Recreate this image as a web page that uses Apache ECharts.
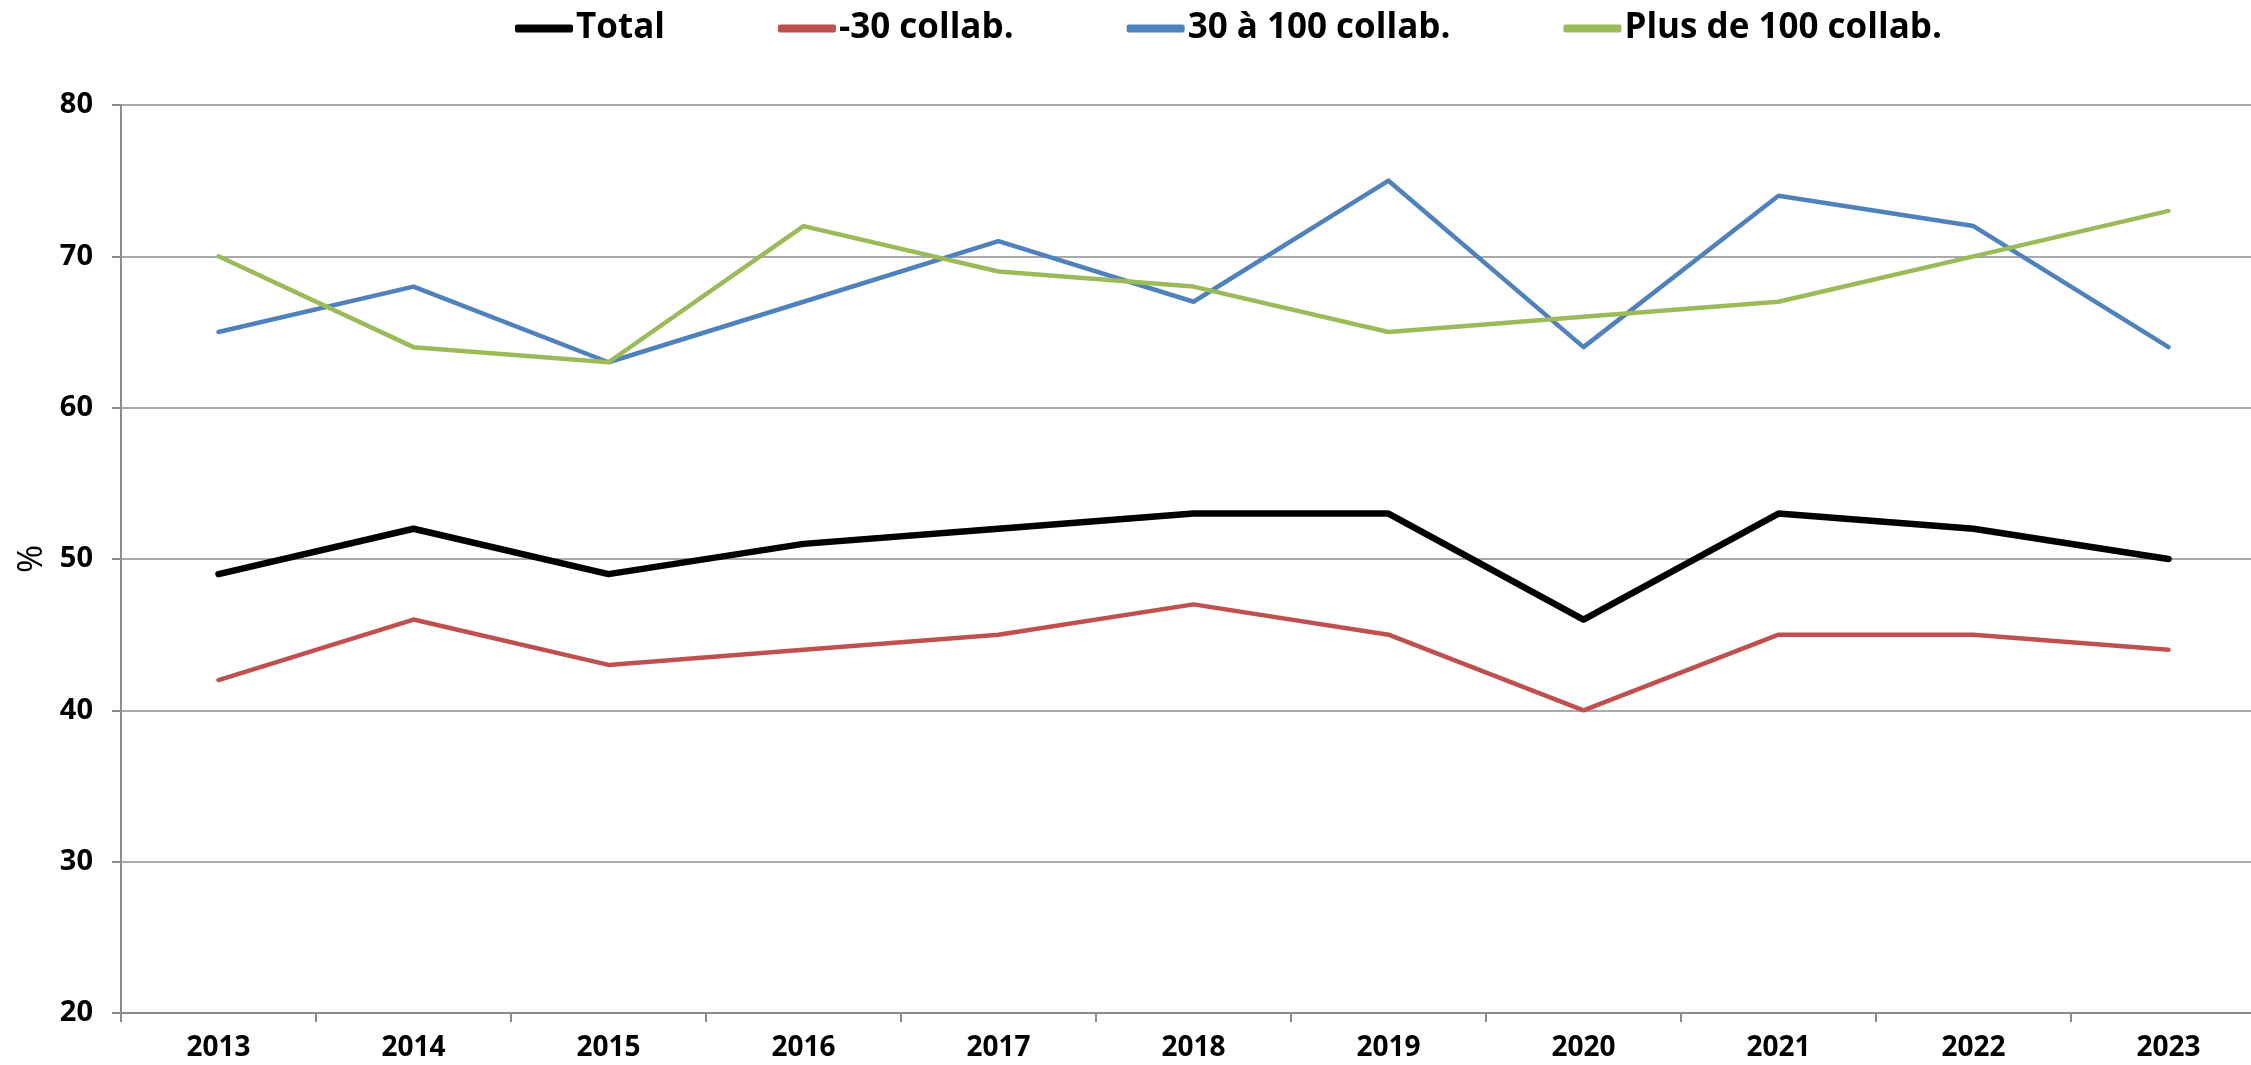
<!DOCTYPE html>
<html>
<head>
<meta charset="utf-8">
<script src="https://cdn.jsdelivr.net/npm/echarts@6/dist/echarts.min.js"></script>
<style>
  html, body { margin: 0; padding: 0; background: #fff; }
  #chart { width: 2251px; height: 1065px; }
</style>
</head>
<body>
<div id="chart"></div>
<script>
// données
var years = ["2013", "2014", "2015", "2016", "2017", "2018", "2019", "2020", "2021", "2022", "2023"];
var total = [49, 52, 49, 51, 52, 53, 53, 46, 53, 52, 50];
var moins30 = [42, 46, 43, 44, 45, 47, 45, 40, 45, 45, 44];
var de30a100 = [65, 68, 63, 67, 71, 67, 75, 64, 74, 72, 64];
var plus100 = [70, 64, 63, 72, 69, 68, 65, 66, 67, 70, 73];
var seriesNames = ["Total", "-30 collab.", "30 à 100 collab.", "Plus de 100 collab."];

var chart = echarts.init(document.getElementById("chart"));
var axisGray = "#8c8c8c";
var labelFont = "'Open Sans', 'Noto Sans', sans-serif";

function lineSerie(name, data, color, width) {
  return {
    name: name,
    type: "line",
    data: data,
    symbol: "none",
    lineStyle: { color: color, width: width, cap: "round", join: "round" },
    itemStyle: { color: color },
  };
}

var option = {
  animation: false,
  grid: { left: 121, right: -15, top: 105, bottom: 52, outerBoundsMode: "none" },
  legend: {
    top: 6,
    left: 510,
    itemWidth: 58,
    itemHeight: 8,
    itemGap: 113,
    icon: "roundRect",
    textStyle: {
      fontFamily: labelFont,
      fontWeight: "bold",
      fontSize: 35,
      color: "#000",
      padding: [0, 0, 0, -2],
    },
    data: seriesNames,
  },
  xAxis: {
    type: "category",
    data: years,
    boundaryGap: true,
    axisLine: { lineStyle: { color: axisGray, width: 2 } },
    axisTick: { show: true, length: 9, lineStyle: { color: axisGray, width: 2 } },
    axisLabel: {
      margin: 21,
      fontFamily: labelFont,
      fontWeight: "bold",
      fontSize: 28,
      color: "#000",
    },
  },
  yAxis: {
    type: "value",
    min: 20,
    max: 80,
    interval: 10,
    name: "%",
    nameLocation: "middle",
    nameRotate: 90,
    nameGap: 70,
    nameTextStyle: { fontFamily: labelFont, fontSize: 34, color: "#000" },
    axisLine: { show: true, lineStyle: { color: axisGray, width: 2 } },
    axisTick: { show: true, length: 9, lineStyle: { color: axisGray, width: 2 } },
    splitLine: { show: true, lineStyle: { color: axisGray, width: 1.5 } },
    axisLabel: {
      margin: 28,
      fontFamily: labelFont,
      fontWeight: "bold",
      fontSize: 29,
      color: "#000",
    },
  },
  series: [
    lineSerie("Total", total, "#000000", 6.5),
    lineSerie("-30 collab.", moins30, "#C0504D", 4.5),
    lineSerie("30 à 100 collab.", de30a100, "#4F81BD", 4.5),
    lineSerie("Plus de 100 collab.", plus100, "#9BBB59", 4.5),
  ],
};

chart.setOption(option);
</script>
</body>
</html>
